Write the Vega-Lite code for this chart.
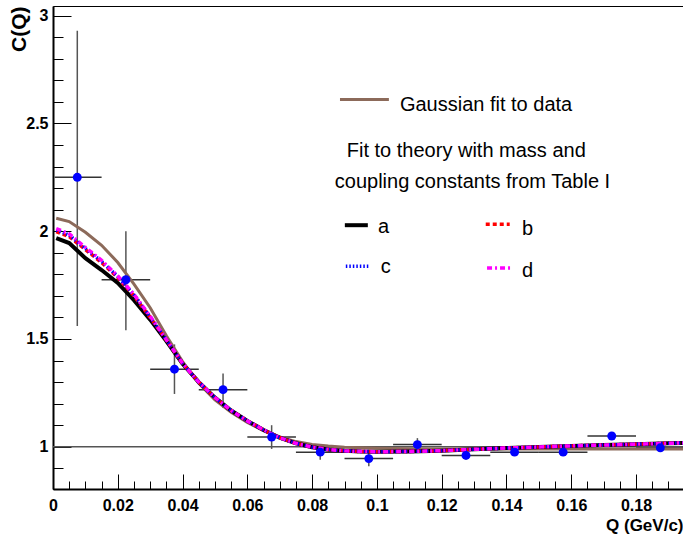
{
  "$schema": "https://vega.github.io/schema/vega-lite/v6.json",
  "width": 630,
  "height": 483,
  "autosize": {"type": "none"},
  "padding": {"left": 53, "top": 6, "right": 0, "bottom": 51},
  "background": "white",
  "config": {"view": {"stroke": "black", "strokeWidth": 1}, "font": "Liberation Sans"},
  "resolve": {"axis": {"x": "independent", "y": "independent"}},
  "datasets": {
    "pts": [
      {"Q": 0.0075, "C": 2.25, "lo": 1.56, "hi": 2.93, "qlo": 0.0005, "qhi": 0.015},
      {"Q": 0.0225, "C": 1.775, "lo": 1.54, "hi": 2.0, "qlo": 0.015, "qhi": 0.03},
      {"Q": 0.0375, "C": 1.36, "lo": 1.245, "hi": 1.475, "qlo": 0.03, "qhi": 0.045},
      {"Q": 0.0525, "C": 1.265, "lo": 1.18, "hi": 1.34, "qlo": 0.045, "qhi": 0.06},
      {"Q": 0.0675, "C": 1.045, "lo": 0.99, "hi": 1.10, "qlo": 0.06, "qhi": 0.075},
      {"Q": 0.0825, "C": 0.975, "lo": 0.94, "hi": 1.01, "qlo": 0.075, "qhi": 0.09},
      {"Q": 0.0975, "C": 0.945, "lo": 0.91, "hi": 0.975, "qlo": 0.09, "qhi": 0.105},
      {"Q": 0.1125, "C": 1.01, "lo": 0.985, "hi": 1.04, "qlo": 0.105, "qhi": 0.12},
      {"Q": 0.1275, "C": 0.96, "lo": 0.94, "hi": 0.98, "qlo": 0.12, "qhi": 0.135},
      {"Q": 0.1425, "C": 0.975, "lo": 0.96, "hi": 0.99, "qlo": 0.135, "qhi": 0.15},
      {"Q": 0.1575, "C": 0.975, "lo": 0.96, "hi": 0.99, "qlo": 0.15, "qhi": 0.165},
      {"Q": 0.1725, "C": 1.05, "lo": 1.035, "hi": 1.065, "qlo": 0.165, "qhi": 0.18},
      {"Q": 0.1875, "C": 0.995, "lo": 0.98, "hi": 1.01, "qlo": 0.18, "qhi": 0.195}
    ],
    "curves": [
      {"Q": 0.001, "G": 2.06, "a": 1.968, "b": 1.998, "c": 2.005, "d": 2.012},
      {"Q": 0.005, "G": 2.045, "a": 1.945, "b": 1.975, "c": 1.982, "d": 1.988},
      {"Q": 0.01, "G": 1.995, "a": 1.875, "b": 1.915, "c": 1.92, "d": 1.925},
      {"Q": 0.015, "G": 1.935, "a": 1.82, "b": 1.855, "c": 1.86, "d": 1.865},
      {"Q": 0.02, "G": 1.855, "a": 1.76, "b": 1.785, "c": 1.79, "d": 1.792},
      {"Q": 0.025, "G": 1.755, "a": 1.68, "b": 1.70, "c": 1.705, "d": 1.707},
      {"Q": 0.03, "G": 1.645, "a": 1.59, "b": 1.60, "c": 1.603, "d": 1.605},
      {"Q": 0.035, "G": 1.515, "a": 1.49, "b": 1.495, "c": 1.496, "d": 1.497},
      {"Q": 0.04, "G": 1.395, "a": 1.385, "b": 1.387, "c": 1.387, "d": 1.387},
      {"Q": 0.045, "G": 1.295, "a": 1.30, "b": 1.30, "c": 1.30, "d": 1.30},
      {"Q": 0.05, "G": 1.218, "a": 1.228, "b": 1.228, "c": 1.228, "d": 1.228},
      {"Q": 0.055, "G": 1.16, "a": 1.168, "b": 1.168, "c": 1.168, "d": 1.168},
      {"Q": 0.06, "G": 1.113, "a": 1.12, "b": 1.12, "c": 1.12, "d": 1.12},
      {"Q": 0.065, "G": 1.075, "a": 1.078, "b": 1.078, "c": 1.078, "d": 1.078},
      {"Q": 0.07, "G": 1.046, "a": 1.042, "b": 1.042, "c": 1.042, "d": 1.042},
      {"Q": 0.075, "G": 1.024, "a": 1.016, "b": 1.016, "c": 1.016, "d": 1.016},
      {"Q": 0.08, "G": 1.011, "a": 0.998, "b": 0.998, "c": 0.998, "d": 0.998},
      {"Q": 0.085, "G": 1.003, "a": 0.987, "b": 0.987, "c": 0.987, "d": 0.987},
      {"Q": 0.09, "G": 0.998, "a": 0.981, "b": 0.981, "c": 0.981, "d": 0.981},
      {"Q": 0.095, "G": 0.995, "a": 0.978, "b": 0.978, "c": 0.978, "d": 0.978},
      {"Q": 0.1, "G": 0.993, "a": 0.977, "b": 0.977, "c": 0.977, "d": 0.977},
      {"Q": 0.11, "G": 0.991, "a": 0.978, "b": 0.978, "c": 0.978, "d": 0.978},
      {"Q": 0.12, "G": 0.99, "a": 0.982, "b": 0.982, "c": 0.982, "d": 0.982},
      {"Q": 0.13, "G": 0.99, "a": 0.988, "b": 0.988, "c": 0.988, "d": 0.988},
      {"Q": 0.14, "G": 0.99, "a": 0.994, "b": 0.994, "c": 0.994, "d": 0.994},
      {"Q": 0.15, "G": 0.99, "a": 0.999, "b": 0.999, "c": 0.999, "d": 0.999},
      {"Q": 0.16, "G": 0.99, "a": 1.004, "b": 1.004, "c": 1.004, "d": 1.004},
      {"Q": 0.17, "G": 0.99, "a": 1.008, "b": 1.008, "c": 1.008, "d": 1.008},
      {"Q": 0.18, "G": 0.99, "a": 1.012, "b": 1.012, "c": 1.012, "d": 1.012},
      {"Q": 0.19, "G": 0.99, "a": 1.016, "b": 1.016, "c": 1.016, "d": 1.016},
      {"Q": 0.1945, "G": 0.99, "a": 1.018, "b": 1.018, "c": 1.018, "d": 1.018}
    ],
    "legline": [
      {"s": "G", "Q1": 0.0886, "Q2": 0.1037, "C": 2.611},
      {"s": "a", "Q1": 0.0901, "Q2": 0.0972, "C": 2.028},
      {"s": "b", "Q1": 0.1336, "Q2": 0.1410, "C": 2.032},
      {"s": "c", "Q1": 0.0904, "Q2": 0.0979, "C": 1.838},
      {"s": "d", "Q1": 0.1340, "Q2": 0.1417, "C": 1.829}
    ],
    "legtext": [
      {"Q": 0.1071, "C": 2.560, "t": "Gaussian fit to data"},
      {"Q": 0.0907, "C": 2.343, "t": "Fit to theory with mass and"},
      {"Q": 0.0870, "C": 2.199, "t": "coupling constants from Table I"},
      {"Q": 0.1003, "C": 1.991, "t": "a"},
      {"Q": 0.1448, "C": 1.981, "t": "b"},
      {"Q": 0.1012, "C": 1.806, "t": "c"},
      {"Q": 0.1448, "C": 1.787, "t": "d"}
    ]
  },
  "layer": [
    {
      "data": {"name": "pts"},
      "mark": {"type": "rule", "color": "#555555", "strokeWidth": 1.5},
      "encoding": {
        "x": {"field": "Q", "type": "quantitative", "scale": {"domain": [0, 0.1945], "nice": false, "zero": false},
          "axis": {
            "orient": "bottom",
            "values": [0, 0.02, 0.04, 0.06, 0.08, 0.1, 0.12, 0.14, 0.16, 0.18],
            "format": "~g",
            "tickSize": -15,
            "tickColor": "black", "tickWidth": 1,
            "domainColor": "black", "domainWidth": 2,
            "grid": false,
            "labelFont": "Liberation Sans", "labelFontWeight": "bold", "labelFontSize": 16, "labelColor": "black",
            "labelPadding": 23, "labelFlush": false, "labelOverlap": false,
            "title": "Q (GeV/c)", "titleFont": "Liberation Sans", "titleFontWeight": "bold", "titleFontSize": 17, "titleColor": "black",
            "titleAnchor": "end", "titlePadding": 4
          }},
        "y": {"field": "lo", "type": "quantitative", "scale": {"domain": [0.804, 3.045], "nice": false, "zero": false},
          "axis": {
            "orient": "left",
            "values": [1, 1.5, 2, 2.5, 3],
            "format": "~g",
            "tickSize": -18,
            "tickColor": "black", "tickWidth": 1,
            "domainColor": "black", "domainWidth": 2,
            "grid": false,
            "labelFont": "Liberation Sans", "labelFontWeight": "bold", "labelFontSize": 16, "labelColor": "black",
            "labelPadding": 23, "labelOverlap": false, "labelFlush": false,
            "title": "C(Q)", "titleFont": "Liberation Sans", "titleFontWeight": "bold", "titleFontSize": 21, "titleColor": "black",
            "titleAnchor": "end", "titleX": -24, "titleBaseline": "bottom", "titleAngle": -90
          }},
        "y2": {"field": "hi"}
      }
    },
    {
      "data": {"name": "pts"},
      "mark": {"type": "rule", "color": "#333333", "strokeWidth": 1.5},
      "encoding": {
        "x": {"field": "qlo", "type": "quantitative", "scale": {"domain": [0, 0.1945], "nice": false, "zero": false},
          "axis": {
            "orient": "bottom",
            "values": [0.005, 0.01, 0.015, 0.025, 0.03, 0.035, 0.045, 0.05, 0.055, 0.065, 0.07, 0.075, 0.085, 0.09, 0.095, 0.105, 0.11, 0.115, 0.125, 0.13, 0.135, 0.145, 0.15, 0.155, 0.165, 0.17, 0.175, 0.185, 0.19],
            "tickSize": -8, "tickColor": "black", "tickWidth": 1,
            "labels": false, "domain": false, "grid": false, "title": null
          }},
        "x2": {"field": "qhi"},
        "y": {"field": "C", "type": "quantitative", "scale": {"domain": [0.804, 3.045], "nice": false, "zero": false},
          "axis": {
            "orient": "left",
            "values": [0.9, 1.1, 1.2, 1.3, 1.4, 1.6, 1.7, 1.8, 1.9, 2.1, 2.2, 2.3, 2.4, 2.6, 2.7, 2.8, 2.9],
            "tickSize": -10, "tickColor": "black", "tickWidth": 1,
            "labels": false, "domain": false, "grid": false, "title": null
          }}
      }
    },
    {
      "data": {"values": [{"C": 1}]},
      "mark": {"type": "rule", "color": "#555555", "strokeWidth": 1.5},
      "encoding": {
        "y": {"field": "C", "type": "quantitative", "scale": {"domain": [0.804, 3.045], "nice": false, "zero": false}, "axis": null}
      }
    },
    {
      "data": {"name": "curves"},
      "mark": {"type": "line", "color": "#8c6a5a", "strokeWidth": 3, "clip": true},
      "encoding": {
        "x": {"field": "Q", "type": "quantitative", "scale": {"domain": [0, 0.1945], "nice": false, "zero": false}, "axis": null},
        "y": {"field": "G", "type": "quantitative", "scale": {"domain": [0.804, 3.045], "nice": false, "zero": false}, "axis": null}
      }
    },
    {
      "data": {"name": "curves"},
      "mark": {"type": "line", "color": "black", "strokeWidth": 4, "clip": true},
      "encoding": {
        "x": {"field": "Q", "type": "quantitative", "scale": {"domain": [0, 0.1945], "nice": false, "zero": false}, "axis": null},
        "y": {"field": "a", "type": "quantitative", "scale": {"domain": [0.804, 3.045], "nice": false, "zero": false}, "axis": null}
      }
    },
    {
      "data": {"name": "curves"},
      "mark": {"type": "line", "color": "#ff0000", "strokeWidth": 3.5, "strokeDash": [4, 3], "clip": true},
      "encoding": {
        "x": {"field": "Q", "type": "quantitative", "scale": {"domain": [0, 0.1945], "nice": false, "zero": false}, "axis": null},
        "y": {"field": "b", "type": "quantitative", "scale": {"domain": [0.804, 3.045], "nice": false, "zero": false}, "axis": null}
      }
    },
    {
      "data": {"name": "curves"},
      "mark": {"type": "line", "color": "#0000ff", "strokeWidth": 3.5, "strokeDash": [1.5, 2], "clip": true},
      "encoding": {
        "x": {"field": "Q", "type": "quantitative", "scale": {"domain": [0, 0.1945], "nice": false, "zero": false}, "axis": null},
        "y": {"field": "c", "type": "quantitative", "scale": {"domain": [0.804, 3.045], "nice": false, "zero": false}, "axis": null}
      }
    },
    {
      "data": {"name": "curves"},
      "mark": {"type": "line", "color": "#ff00ff", "strokeWidth": 3.5, "strokeDash": [5, 3, 2, 3], "clip": true},
      "encoding": {
        "x": {"field": "Q", "type": "quantitative", "scale": {"domain": [0, 0.1945], "nice": false, "zero": false}, "axis": null},
        "y": {"field": "d", "type": "quantitative", "scale": {"domain": [0.804, 3.045], "nice": false, "zero": false}, "axis": null}
      }
    },
    {
      "data": {"name": "pts"},
      "mark": {"type": "point", "filled": true, "shape": "circle", "color": "#0000ff", "size": 80, "opacity": 1},
      "encoding": {
        "x": {"field": "Q", "type": "quantitative", "scale": {"domain": [0, 0.1945], "nice": false, "zero": false}, "axis": null},
        "y": {"field": "C", "type": "quantitative", "scale": {"domain": [0.804, 3.045], "nice": false, "zero": false}, "axis": null}
      }
    },
    {
      "data": {"name": "legline"},
      "transform": [{"filter": "datum.s == 'G'"}],
      "mark": {"type": "rule", "color": "#8c6a5a", "strokeWidth": 3},
      "encoding": {
        "x": {"field": "Q1", "type": "quantitative", "scale": {"domain": [0, 0.1945], "nice": false, "zero": false}, "axis": null},
        "x2": {"field": "Q2"},
        "y": {"field": "C", "type": "quantitative", "scale": {"domain": [0.804, 3.045], "nice": false, "zero": false}, "axis": null}
      }
    },
    {
      "data": {"name": "legline"},
      "transform": [{"filter": "datum.s == 'a'"}],
      "mark": {"type": "rule", "color": "black", "strokeWidth": 4},
      "encoding": {
        "x": {"field": "Q1", "type": "quantitative", "scale": {"domain": [0, 0.1945], "nice": false, "zero": false}, "axis": null},
        "x2": {"field": "Q2"},
        "y": {"field": "C", "type": "quantitative", "scale": {"domain": [0.804, 3.045], "nice": false, "zero": false}, "axis": null}
      }
    },
    {
      "data": {"name": "legline"},
      "transform": [{"filter": "datum.s == 'b'"}],
      "mark": {"type": "rule", "color": "#ff0000", "strokeWidth": 3.5, "strokeDash": [4, 3]},
      "encoding": {
        "x": {"field": "Q1", "type": "quantitative", "scale": {"domain": [0, 0.1945], "nice": false, "zero": false}, "axis": null},
        "x2": {"field": "Q2"},
        "y": {"field": "C", "type": "quantitative", "scale": {"domain": [0.804, 3.045], "nice": false, "zero": false}, "axis": null}
      }
    },
    {
      "data": {"name": "legline"},
      "transform": [{"filter": "datum.s == 'c'"}],
      "mark": {"type": "rule", "color": "#0000ff", "strokeWidth": 3.5, "strokeDash": [1.5, 2]},
      "encoding": {
        "x": {"field": "Q1", "type": "quantitative", "scale": {"domain": [0, 0.1945], "nice": false, "zero": false}, "axis": null},
        "x2": {"field": "Q2"},
        "y": {"field": "C", "type": "quantitative", "scale": {"domain": [0.804, 3.045], "nice": false, "zero": false}, "axis": null}
      }
    },
    {
      "data": {"name": "legline"},
      "transform": [{"filter": "datum.s == 'd'"}],
      "mark": {"type": "rule", "color": "#ff00ff", "strokeWidth": 3.5, "strokeDash": [5, 3, 2, 3]},
      "encoding": {
        "x": {"field": "Q1", "type": "quantitative", "scale": {"domain": [0, 0.1945], "nice": false, "zero": false}, "axis": null},
        "x2": {"field": "Q2"},
        "y": {"field": "C", "type": "quantitative", "scale": {"domain": [0.804, 3.045], "nice": false, "zero": false}, "axis": null}
      }
    },
    {
      "data": {"name": "legtext"},
      "mark": {"type": "text", "align": "left", "baseline": "alphabetic", "font": "Liberation Sans", "fontSize": 20, "color": "black"},
      "encoding": {
        "x": {"field": "Q", "type": "quantitative", "scale": {"domain": [0, 0.1945], "nice": false, "zero": false}, "axis": null},
        "y": {"field": "C", "type": "quantitative", "scale": {"domain": [0.804, 3.045], "nice": false, "zero": false}, "axis": null},
        "text": {"field": "t", "type": "nominal"}
      }
    }
  ]
}
